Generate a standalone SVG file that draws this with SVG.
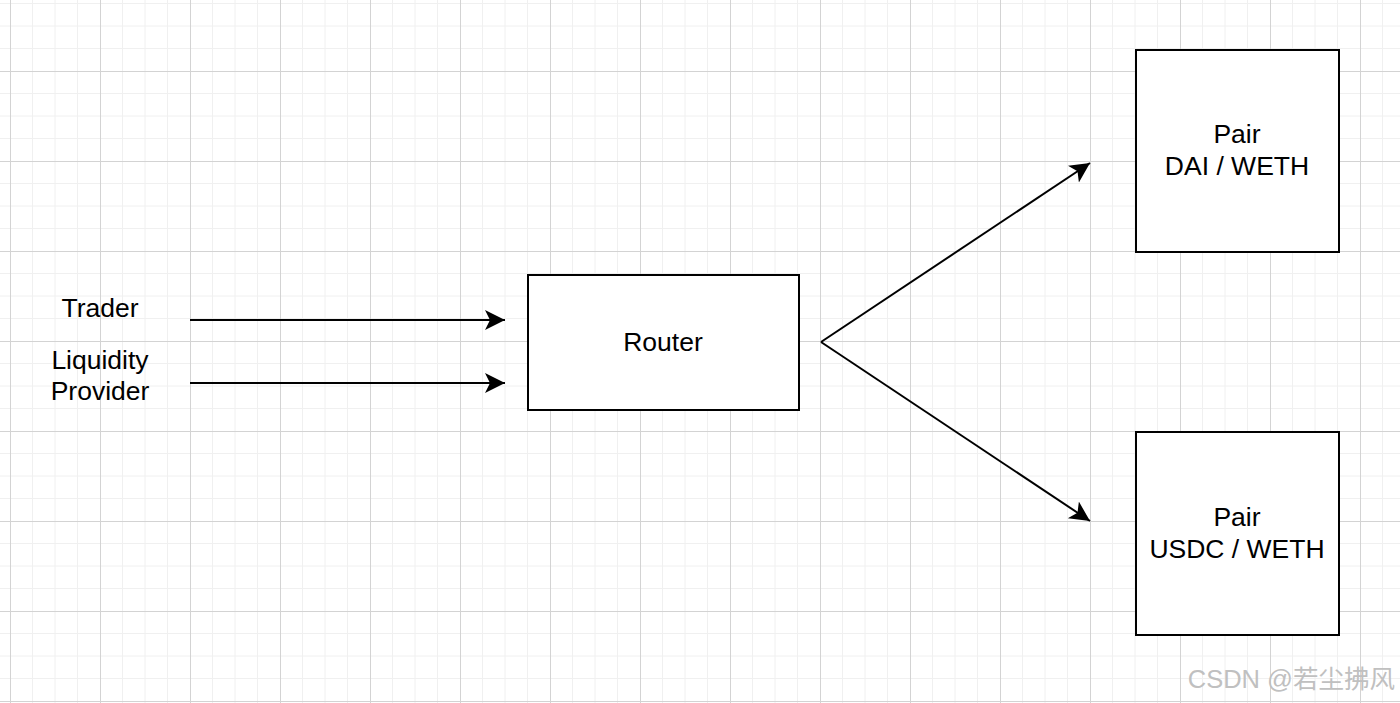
<svg xmlns="http://www.w3.org/2000/svg" width="1400" height="703" viewBox="0 0 1400 703">
<style>
.box{fill:#fff;stroke:#000;stroke-width:2}
.t{font-family:"Liberation Sans",Arial,sans-serif;font-size:26.5px;fill:#000;text-anchor:middle}
.c{stroke:#000;stroke-width:2;fill:none}
.minor{stroke:#f0f0f0;stroke-width:1}
.major{stroke:#d3d3d3;stroke-width:1}
</style>
<defs>
<pattern id="grid" patternUnits="userSpaceOnUse" x="10" y="-19" width="90" height="90">
<path class="minor" d="M22.5 0V90M45 0V90M67.5 0V90M0 22.5H90M0 45H90M0 67.5H90"/>
<path class="major" d="M0.5 0V90M0 0.5H90"/>
</pattern>
<marker id="arr" markerUnits="userSpaceOnUse" markerWidth="24" markerHeight="24" refX="20" refY="10" orient="auto">
<path d="M0 0L20 10L0 20L5 10Z" fill="#000"/>
</marker>
</defs>
<rect width="1400" height="703" fill="#fff"/>
<rect width="1400" height="703" fill="url(#grid)"/>
<g id="connectors">
<line class="c" x1="190" y1="320" x2="505" y2="320" marker-end="url(#arr)"/>
<line class="c" x1="190" y1="383" x2="505" y2="383" marker-end="url(#arr)"/>
<line class="c" x1="821" y1="342" x2="1090" y2="163" marker-end="url(#arr)"/>
<line class="c" x1="821" y1="342" x2="1090" y2="521" marker-end="url(#arr)"/>
</g>
<g id="trader"><text class="t" x="100" y="317">Trader</text></g>
<g id="lp"><text class="t" x="100" y="369">Liquidity</text><text class="t" x="100" y="400">Provider</text></g>
<g id="router"><rect class="box" x="528" y="275" width="271" height="135"/><text class="t" x="663" y="351">Router</text></g>
<g id="pair-dai"><rect class="box" x="1136" y="50" width="203" height="202"/><text class="t" x="1237" y="143">Pair</text><text class="t" x="1237" y="175">DAI / WETH</text></g>
<g id="pair-usdc"><rect class="box" x="1136" y="432" width="203" height="203"/><text class="t" x="1237" y="526">Pair</text><text class="t" x="1237" y="558">USDC / WETH</text></g>
<text x="1395" y="688" font-family="'Liberation Sans','Noto Sans CJK SC',sans-serif" font-size="25.5" fill="#c0c0c0" text-anchor="end">CSDN @若尘拂风</text>
</svg>
